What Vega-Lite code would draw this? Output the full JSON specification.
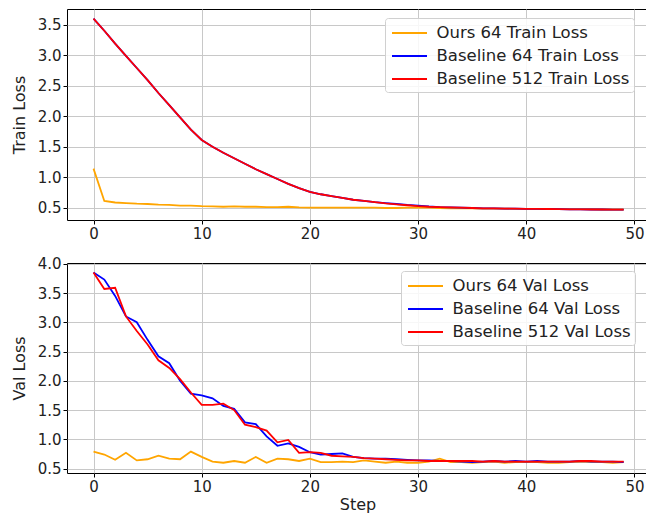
{
  "$schema": "https://vega.github.io/schema/vega-lite/v6.json",
  "autosize": {"type": "pad"},
  "padding": {"left": 10, "top": 8, "right": 0, "bottom": 0},
  "background": "white",
  "spacing": 43,
  "bounds": "flush",
  "config": {
    "font": "DejaVu Sans",
    "view": {"stroke": "#000", "strokeWidth": 1},
    "axis": {
      "domain": false,
      "tickColor": "#000",
      "tickSize": 4,
      "labelFontSize": 15,
      "labelColor": "#222",
      "labelPadding": 2,
      "titleFontSize": 16,
      "titleFontWeight": "normal",
      "titleColor": "#222",
      "titlePadding": 8,
      "gridColor": "#c8c8c8",
      "gridWidth": 1
    },
    "axisLeft": {"titleX": -43, "titleBaseline": "alphabetic"},
    "legend": {
      "symbolType": "M-1.75,0H1.75",
      "symbolSize": 400,
      "symbolStrokeWidth": 1.8,
      "symbolOffset": 9.5,
      "labelFontSize": 16.5,
      "labelColor": "#222",
      "labelOffset": 16,
      "labelLimit": 400,
      "padding": 4,
      "rowPadding": 3,
      "fillColor": "rgba(255,255,255,0.85)",
      "strokeColor": "#d0d0d0",
      "cornerRadius": 3
    }
  },
  "datasets": {
    "train": [
      {"step": 0, "Ours 64 Train Loss": 1.14, "Baseline 64 Train Loss": 3.6, "Baseline 512 Train Loss": 3.6},
      {"step": 1, "Ours 64 Train Loss": 0.61, "Baseline 64 Train Loss": 3.4, "Baseline 512 Train Loss": 3.4},
      {"step": 2, "Ours 64 Train Loss": 0.585, "Baseline 64 Train Loss": 3.19, "Baseline 512 Train Loss": 3.19},
      {"step": 3, "Ours 64 Train Loss": 0.575, "Baseline 64 Train Loss": 2.99, "Baseline 512 Train Loss": 2.99},
      {"step": 4, "Ours 64 Train Loss": 0.565, "Baseline 64 Train Loss": 2.79, "Baseline 512 Train Loss": 2.79},
      {"step": 5, "Ours 64 Train Loss": 0.56, "Baseline 64 Train Loss": 2.59, "Baseline 512 Train Loss": 2.59},
      {"step": 6, "Ours 64 Train Loss": 0.55, "Baseline 64 Train Loss": 2.38, "Baseline 512 Train Loss": 2.38},
      {"step": 7, "Ours 64 Train Loss": 0.545, "Baseline 64 Train Loss": 2.18, "Baseline 512 Train Loss": 2.18},
      {"step": 8, "Ours 64 Train Loss": 0.535, "Baseline 64 Train Loss": 1.98, "Baseline 512 Train Loss": 1.98},
      {"step": 9, "Ours 64 Train Loss": 0.535, "Baseline 64 Train Loss": 1.78, "Baseline 512 Train Loss": 1.78},
      {"step": 10, "Ours 64 Train Loss": 0.525, "Baseline 64 Train Loss": 1.61, "Baseline 512 Train Loss": 1.61},
      {"step": 11, "Ours 64 Train Loss": 0.52, "Baseline 64 Train Loss": 1.5, "Baseline 512 Train Loss": 1.5},
      {"step": 12, "Ours 64 Train Loss": 0.515, "Baseline 64 Train Loss": 1.4, "Baseline 512 Train Loss": 1.4},
      {"step": 13, "Ours 64 Train Loss": 0.52, "Baseline 64 Train Loss": 1.31, "Baseline 512 Train Loss": 1.31},
      {"step": 14, "Ours 64 Train Loss": 0.515, "Baseline 64 Train Loss": 1.22, "Baseline 512 Train Loss": 1.22},
      {"step": 15, "Ours 64 Train Loss": 0.515, "Baseline 64 Train Loss": 1.13, "Baseline 512 Train Loss": 1.13},
      {"step": 16, "Ours 64 Train Loss": 0.51, "Baseline 64 Train Loss": 1.05, "Baseline 512 Train Loss": 1.05},
      {"step": 17, "Ours 64 Train Loss": 0.51, "Baseline 64 Train Loss": 0.97, "Baseline 512 Train Loss": 0.97},
      {"step": 18, "Ours 64 Train Loss": 0.515, "Baseline 64 Train Loss": 0.89, "Baseline 512 Train Loss": 0.89},
      {"step": 19, "Ours 64 Train Loss": 0.505, "Baseline 64 Train Loss": 0.82, "Baseline 512 Train Loss": 0.82},
      {"step": 20, "Ours 64 Train Loss": 0.5, "Baseline 64 Train Loss": 0.76, "Baseline 512 Train Loss": 0.76},
      {"step": 21, "Ours 64 Train Loss": 0.5, "Baseline 64 Train Loss": 0.72, "Baseline 512 Train Loss": 0.72},
      {"step": 22, "Ours 64 Train Loss": 0.5, "Baseline 64 Train Loss": 0.69, "Baseline 512 Train Loss": 0.69},
      {"step": 23, "Ours 64 Train Loss": 0.5, "Baseline 64 Train Loss": 0.66, "Baseline 512 Train Loss": 0.66},
      {"step": 24, "Ours 64 Train Loss": 0.5, "Baseline 64 Train Loss": 0.63, "Baseline 512 Train Loss": 0.63},
      {"step": 25, "Ours 64 Train Loss": 0.5, "Baseline 64 Train Loss": 0.61, "Baseline 512 Train Loss": 0.61},
      {"step": 26, "Ours 64 Train Loss": 0.5, "Baseline 64 Train Loss": 0.59, "Baseline 512 Train Loss": 0.59},
      {"step": 27, "Ours 64 Train Loss": 0.495, "Baseline 64 Train Loss": 0.575, "Baseline 512 Train Loss": 0.57},
      {"step": 28, "Ours 64 Train Loss": 0.495, "Baseline 64 Train Loss": 0.56, "Baseline 512 Train Loss": 0.555},
      {"step": 29, "Ours 64 Train Loss": 0.5, "Baseline 64 Train Loss": 0.545, "Baseline 512 Train Loss": 0.54},
      {"step": 30, "Ours 64 Train Loss": 0.5, "Baseline 64 Train Loss": 0.535, "Baseline 512 Train Loss": 0.525},
      {"step": 31, "Ours 64 Train Loss": 0.5, "Baseline 64 Train Loss": 0.52, "Baseline 512 Train Loss": 0.515},
      {"step": 32, "Ours 64 Train Loss": 0.495, "Baseline 64 Train Loss": 0.51, "Baseline 512 Train Loss": 0.51},
      {"step": 33, "Ours 64 Train Loss": 0.49, "Baseline 64 Train Loss": 0.505, "Baseline 512 Train Loss": 0.505},
      {"step": 34, "Ours 64 Train Loss": 0.49, "Baseline 64 Train Loss": 0.5, "Baseline 512 Train Loss": 0.5},
      {"step": 35, "Ours 64 Train Loss": 0.49, "Baseline 64 Train Loss": 0.495, "Baseline 512 Train Loss": 0.495},
      {"step": 36, "Ours 64 Train Loss": 0.485, "Baseline 64 Train Loss": 0.49, "Baseline 512 Train Loss": 0.49},
      {"step": 37, "Ours 64 Train Loss": 0.485, "Baseline 64 Train Loss": 0.49, "Baseline 512 Train Loss": 0.49},
      {"step": 38, "Ours 64 Train Loss": 0.485, "Baseline 64 Train Loss": 0.485, "Baseline 512 Train Loss": 0.485},
      {"step": 39, "Ours 64 Train Loss": 0.48, "Baseline 64 Train Loss": 0.485, "Baseline 512 Train Loss": 0.485},
      {"step": 40, "Ours 64 Train Loss": 0.48, "Baseline 64 Train Loss": 0.48, "Baseline 512 Train Loss": 0.48},
      {"step": 41, "Ours 64 Train Loss": 0.48, "Baseline 64 Train Loss": 0.48, "Baseline 512 Train Loss": 0.48},
      {"step": 42, "Ours 64 Train Loss": 0.48, "Baseline 64 Train Loss": 0.478, "Baseline 512 Train Loss": 0.478},
      {"step": 43, "Ours 64 Train Loss": 0.475, "Baseline 64 Train Loss": 0.475, "Baseline 512 Train Loss": 0.475},
      {"step": 44, "Ours 64 Train Loss": 0.475, "Baseline 64 Train Loss": 0.473, "Baseline 512 Train Loss": 0.473},
      {"step": 45, "Ours 64 Train Loss": 0.475, "Baseline 64 Train Loss": 0.472, "Baseline 512 Train Loss": 0.472},
      {"step": 46, "Ours 64 Train Loss": 0.475, "Baseline 64 Train Loss": 0.47, "Baseline 512 Train Loss": 0.47},
      {"step": 47, "Ours 64 Train Loss": 0.47, "Baseline 64 Train Loss": 0.47, "Baseline 512 Train Loss": 0.47},
      {"step": 48, "Ours 64 Train Loss": 0.47, "Baseline 64 Train Loss": 0.468, "Baseline 512 Train Loss": 0.468},
      {"step": 49, "Ours 64 Train Loss": 0.47, "Baseline 64 Train Loss": 0.467, "Baseline 512 Train Loss": 0.467}
    ],
    "val": [
      {"step": 0, "Ours 64 Val Loss": 0.79, "Baseline 64 Val Loss": 3.85, "Baseline 512 Val Loss": 3.85},
      {"step": 1, "Ours 64 Val Loss": 0.74, "Baseline 64 Val Loss": 3.73, "Baseline 512 Val Loss": 3.57},
      {"step": 2, "Ours 64 Val Loss": 0.65, "Baseline 64 Val Loss": 3.45, "Baseline 512 Val Loss": 3.59},
      {"step": 3, "Ours 64 Val Loss": 0.77, "Baseline 64 Val Loss": 3.1, "Baseline 512 Val Loss": 3.1},
      {"step": 4, "Ours 64 Val Loss": 0.64, "Baseline 64 Val Loss": 3.0, "Baseline 512 Val Loss": 2.85},
      {"step": 5, "Ours 64 Val Loss": 0.66, "Baseline 64 Val Loss": 2.7, "Baseline 512 Val Loss": 2.62},
      {"step": 6, "Ours 64 Val Loss": 0.72, "Baseline 64 Val Loss": 2.42, "Baseline 512 Val Loss": 2.35},
      {"step": 7, "Ours 64 Val Loss": 0.67, "Baseline 64 Val Loss": 2.3, "Baseline 512 Val Loss": 2.22},
      {"step": 8, "Ours 64 Val Loss": 0.66, "Baseline 64 Val Loss": 2.0, "Baseline 512 Val Loss": 2.03},
      {"step": 9, "Ours 64 Val Loss": 0.79, "Baseline 64 Val Loss": 1.78, "Baseline 512 Val Loss": 1.8},
      {"step": 10, "Ours 64 Val Loss": 0.7, "Baseline 64 Val Loss": 1.75, "Baseline 512 Val Loss": 1.59},
      {"step": 11, "Ours 64 Val Loss": 0.62, "Baseline 64 Val Loss": 1.7, "Baseline 512 Val Loss": 1.59},
      {"step": 12, "Ours 64 Val Loss": 0.6, "Baseline 64 Val Loss": 1.57, "Baseline 512 Val Loss": 1.61},
      {"step": 13, "Ours 64 Val Loss": 0.63, "Baseline 64 Val Loss": 1.52, "Baseline 512 Val Loss": 1.5},
      {"step": 14, "Ours 64 Val Loss": 0.6, "Baseline 64 Val Loss": 1.29, "Baseline 512 Val Loss": 1.25},
      {"step": 15, "Ours 64 Val Loss": 0.7, "Baseline 64 Val Loss": 1.26, "Baseline 512 Val Loss": 1.21},
      {"step": 16, "Ours 64 Val Loss": 0.6, "Baseline 64 Val Loss": 1.05, "Baseline 512 Val Loss": 1.15},
      {"step": 17, "Ours 64 Val Loss": 0.67, "Baseline 64 Val Loss": 0.89, "Baseline 512 Val Loss": 0.95},
      {"step": 18, "Ours 64 Val Loss": 0.66, "Baseline 64 Val Loss": 0.93, "Baseline 512 Val Loss": 0.99},
      {"step": 19, "Ours 64 Val Loss": 0.63, "Baseline 64 Val Loss": 0.87, "Baseline 512 Val Loss": 0.77},
      {"step": 20, "Ours 64 Val Loss": 0.67, "Baseline 64 Val Loss": 0.78, "Baseline 512 Val Loss": 0.78},
      {"step": 21, "Ours 64 Val Loss": 0.61, "Baseline 64 Val Loss": 0.74, "Baseline 512 Val Loss": 0.77},
      {"step": 22, "Ours 64 Val Loss": 0.61, "Baseline 64 Val Loss": 0.75, "Baseline 512 Val Loss": 0.72},
      {"step": 23, "Ours 64 Val Loss": 0.62, "Baseline 64 Val Loss": 0.76, "Baseline 512 Val Loss": 0.71},
      {"step": 24, "Ours 64 Val Loss": 0.61, "Baseline 64 Val Loss": 0.7, "Baseline 512 Val Loss": 0.7},
      {"step": 25, "Ours 64 Val Loss": 0.64, "Baseline 64 Val Loss": 0.68, "Baseline 512 Val Loss": 0.68},
      {"step": 26, "Ours 64 Val Loss": 0.62, "Baseline 64 Val Loss": 0.67, "Baseline 512 Val Loss": 0.67},
      {"step": 27, "Ours 64 Val Loss": 0.6, "Baseline 64 Val Loss": 0.67, "Baseline 512 Val Loss": 0.66},
      {"step": 28, "Ours 64 Val Loss": 0.62, "Baseline 64 Val Loss": 0.66, "Baseline 512 Val Loss": 0.65},
      {"step": 29, "Ours 64 Val Loss": 0.6, "Baseline 64 Val Loss": 0.65, "Baseline 512 Val Loss": 0.64},
      {"step": 30, "Ours 64 Val Loss": 0.6, "Baseline 64 Val Loss": 0.64, "Baseline 512 Val Loss": 0.64},
      {"step": 31, "Ours 64 Val Loss": 0.62, "Baseline 64 Val Loss": 0.64, "Baseline 512 Val Loss": 0.63},
      {"step": 32, "Ours 64 Val Loss": 0.67, "Baseline 64 Val Loss": 0.63, "Baseline 512 Val Loss": 0.63},
      {"step": 33, "Ours 64 Val Loss": 0.61, "Baseline 64 Val Loss": 0.63, "Baseline 512 Val Loss": 0.63},
      {"step": 34, "Ours 64 Val Loss": 0.61, "Baseline 64 Val Loss": 0.62, "Baseline 512 Val Loss": 0.63},
      {"step": 35, "Ours 64 Val Loss": 0.6, "Baseline 64 Val Loss": 0.61, "Baseline 512 Val Loss": 0.63},
      {"step": 36, "Ours 64 Val Loss": 0.61, "Baseline 64 Val Loss": 0.62, "Baseline 512 Val Loss": 0.62},
      {"step": 37, "Ours 64 Val Loss": 0.62, "Baseline 64 Val Loss": 0.63, "Baseline 512 Val Loss": 0.63},
      {"step": 38, "Ours 64 Val Loss": 0.6, "Baseline 64 Val Loss": 0.62, "Baseline 512 Val Loss": 0.62},
      {"step": 39, "Ours 64 Val Loss": 0.61, "Baseline 64 Val Loss": 0.63, "Baseline 512 Val Loss": 0.62},
      {"step": 40, "Ours 64 Val Loss": 0.61, "Baseline 64 Val Loss": 0.62, "Baseline 512 Val Loss": 0.62},
      {"step": 41, "Ours 64 Val Loss": 0.61, "Baseline 64 Val Loss": 0.63, "Baseline 512 Val Loss": 0.62},
      {"step": 42, "Ours 64 Val Loss": 0.6, "Baseline 64 Val Loss": 0.62, "Baseline 512 Val Loss": 0.62},
      {"step": 43, "Ours 64 Val Loss": 0.6, "Baseline 64 Val Loss": 0.62, "Baseline 512 Val Loss": 0.62},
      {"step": 44, "Ours 64 Val Loss": 0.61, "Baseline 64 Val Loss": 0.62, "Baseline 512 Val Loss": 0.62},
      {"step": 45, "Ours 64 Val Loss": 0.62, "Baseline 64 Val Loss": 0.63, "Baseline 512 Val Loss": 0.63},
      {"step": 46, "Ours 64 Val Loss": 0.61, "Baseline 64 Val Loss": 0.62, "Baseline 512 Val Loss": 0.63},
      {"step": 47, "Ours 64 Val Loss": 0.61, "Baseline 64 Val Loss": 0.62, "Baseline 512 Val Loss": 0.62},
      {"step": 48, "Ours 64 Val Loss": 0.6, "Baseline 64 Val Loss": 0.62, "Baseline 512 Val Loss": 0.62},
      {"step": 49, "Ours 64 Val Loss": 0.61, "Baseline 64 Val Loss": 0.61, "Baseline 512 Val Loss": 0.62}
    ]
  },
  "vconcat": [
    {
      "width": 581,
      "height": 211,
      "data": {"name": "train"},
      "transform": [{"fold": ["Ours 64 Train Loss", "Baseline 64 Train Loss", "Baseline 512 Train Loss"], "as": ["series", "loss"]}],
      "mark": {"type": "line", "strokeWidth": 1.8},
      "encoding": {
        "x": {"field": "step", "type": "quantitative", "scale": {"domain": [-2.45, 51.25], "nice": false, "zero": false}, "axis": {"values": [0, 10, 20, 30, 40, 50], "title": null}},
        "y": {"field": "loss", "type": "quantitative", "scale": {"domain": [0.298, 3.757], "nice": false, "zero": false}, "axis": {"values": [0.5, 1, 1.5, 2, 2.5, 3, 3.5], "format": ".1f", "title": "Train Loss"}},
        "color": {"field": "series", "type": "nominal", "scale": {"domain": ["Ours 64 Train Loss", "Baseline 64 Train Loss", "Baseline 512 Train Loss"], "range": ["#FFA500", "#0000FF", "#FF0000"]}, "legend": {"title": null, "orient": "none", "legendX": 318, "legendY": 9}}
      }
    },
    {
      "width": 581,
      "height": 210,
      "data": {"name": "val"},
      "transform": [{"fold": ["Ours 64 Val Loss", "Baseline 64 Val Loss", "Baseline 512 Val Loss"], "as": ["series", "loss"]}],
      "mark": {"type": "line", "strokeWidth": 1.8},
      "encoding": {
        "x": {"field": "step", "type": "quantitative", "scale": {"domain": [-2.45, 51.25], "nice": false, "zero": false}, "axis": {"values": [0, 10, 20, 30, 40, 50], "title": "Step", "titlePadding": 2}},
        "y": {"field": "loss", "type": "quantitative", "scale": {"domain": [0.425, 4.013], "nice": false, "zero": false}, "axis": {"values": [0.5, 1, 1.5, 2, 2.5, 3, 3.5, 4], "format": ".1f", "title": "Val Loss"}},
        "color": {"field": "series", "type": "nominal", "scale": {"domain": ["Ours 64 Val Loss", "Baseline 64 Val Loss", "Baseline 512 Val Loss"], "range": ["#FFA500", "#0000FF", "#FF0000"]}, "legend": {"title": null, "orient": "none", "legendX": 334, "legendY": 8}}
      }
    }
  ],
  "resolve": {"scale": {"color": "independent"}, "legend": {"color": "independent"}}
}
